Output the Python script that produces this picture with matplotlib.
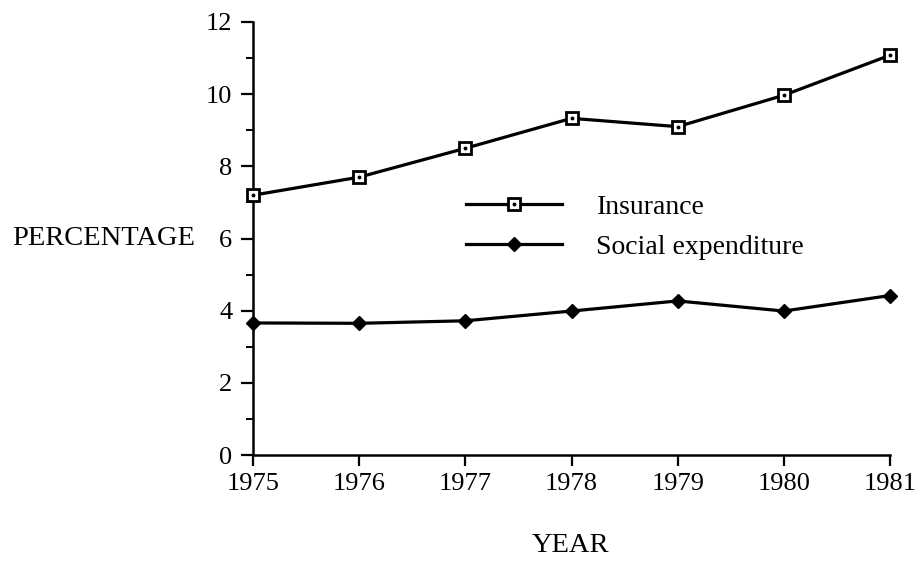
import numpy as np
import matplotlib
matplotlib.use("Agg")
import matplotlib.pyplot as plt
from matplotlib.legend_handler import HandlerTuple

# Values
years = [1975, 1976, 1977, 1978, 1979, 1980, 1981]
insurance = [7.2, 7.7, 8.5, 9.33, 9.1, 9.97, 11.08]
social = [3.66, 3.65, 3.72, 3.99, 4.27, 3.99, 4.42]
y_ticks = [0, 2, 4, 6, 8, 10, 12]

plt.rcParams['font.family'] = ['Liberation Serif', 'DejaVu Serif']
plt.rcParams['font.size'] = 19

fig = plt.figure(figsize=(9.15, 5.67), dpi=100)
ax = fig.add_axes([0.2765, 0.1975, 0.6962, 0.7637])

# Insurance: open squares with a dot in the middle
l1, = ax.plot(years, insurance, color='black', lw=2.3, marker='s', ms=8.5,
              mfc='white', mec='black', mew=2, clip_on=False, zorder=3)
d1, = ax.plot(years, insurance, ls='none', marker='o', ms=1.8, color='black',
              clip_on=False, zorder=4)

# Social expenditure: filled diamonds
l2, = ax.plot(years, social, color='black', lw=2.3, marker='D', ms=7.5,
              mfc='black', mec='black', clip_on=False, zorder=3)

ax.set_xlim(1975, 1981)
ax.set_ylim(0, 12)
ax.set_xticks(years)
ax.set_yticks(y_ticks)
ax.set_yticks(np.arange(1, 12, 2), minor=True)

for side in ['top', 'right']:
    ax.spines[side].set_visible(False)
for side in ['left', 'bottom']:
    ax.spines[side].set_linewidth(1.8)

ax.tick_params(axis='y', which='major', direction='out', length=9, width=1.6, pad=6)
ax.tick_params(axis='x', which='major', direction='out', length=8, width=1.6, pad=5)
ax.tick_params(axis='y', which='minor', direction='out', length=5, width=1.4)

ax.set_ylabel('PERCENTAGE', rotation=0, ha='right', va='center', fontsize=20.5)
ax.yaxis.set_label_coords(-0.091, 0.499)
ax.set_xlabel('YEAR', va='center', fontsize=20.5)
ax.xaxis.set_label_coords(0.498, -0.208)

ax.legend([(l1, d1), l2], ['Insurance', 'Social expenditure'],
          handler_map={tuple: HandlerTuple(ndivide=1)},
          loc='upper left', bbox_to_anchor=(0.295, 0.66), frameon=False,
          fontsize=20, handlelength=3.45, handletextpad=1.25, labelspacing=0.52)

fig.savefig('out.png', dpi=100)
